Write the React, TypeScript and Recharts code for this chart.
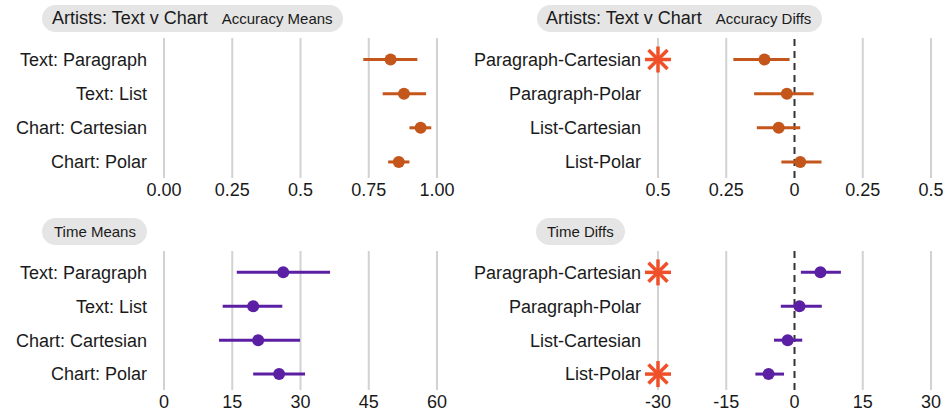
import React from "react";
import {
  ScatterChart,
  Scatter,
  XAxis,
  YAxis,
  ErrorBar,
  ReferenceLine,
} from "recharts";

const FONT = "Helvetica, 'Liberation Sans', Arial, sans-serif";
const ORANGE = "#c4561b";
const PURPLE = "#5b1fa4";
const STAR = "#ef502a";

// accuracy means
const meanLabels = ["Text: Paragraph", "Text: List", "Chart: Cartesian", "Chart: Polar"];
const accMean = [0.83, 0.879, 0.94, 0.86];
const accMeanLo = [0.73, 0.801, 0.899, 0.821];
const accMeanHi = [0.928, 0.96, 0.979, 0.899];
const accMeanTicks = [0, 0.25, 0.5, 0.75, 1];
const accMeanTickLabels = ["0.00", "0.25", "0.5", "0.75", "1.00"];

// accuracy diffs
const diffLabels = ["Paragraph-Cartesian", "Paragraph-Polar", "List-Cartesian", "List-Polar"];
const accDiff = [-0.11, -0.028, -0.058, 0.021];
const accDiffLo = [-0.224, -0.148, -0.138, -0.048];
const accDiffHi = [-0.018, 0.07, 0.021, 0.099];
const accDiffSig = [true, false, false, false];
const accDiffTicks = [-0.5, -0.25, 0, 0.25, 0.5];
const accDiffTickLabels = ["0.5", "0.25", "0", "0.25", "0.5"];

// time means
const timeMean = [26.2, 19.6, 20.7, 25.3];
const timeMeanLo = [16.0, 12.9, 12.1, 19.6];
const timeMeanHi = [36.5, 26.0, 29.9, 31.0];
const timeMeanTicks = [0, 15, 30, 45, 60];
const timeMeanTickLabels = ["0", "15", "30", "45", "60"];

// time diffs
const timeDiff = [5.7, 1.1, -1.5, -5.7];
const timeDiffLo = [1.4, -3.0, -4.5, -8.6];
const timeDiffHi = [10.2, 6.0, 1.7, -2.3];
const timeDiffSig = [true, false, false, true];
const timeDiffTicks = [-30, -15, 0, 15, 30];
const timeDiffTickLabels = ["-30", "-15", "0", "15", "30"];

const Dot = (props: any) => {
  const { cx, cy, fill } = props;
  return <circle cx={cx} cy={cy} r={6} fill={fill} />;
};

const Asterisk = (props: any) => {
  const { cx, cy } = props;
  const r = 13;
  const d = 9.5;
  return (
    <g stroke={STAR} strokeWidth={3.5} strokeLinecap="butt">
      <line x1={cx - r} y1={cy} x2={cx + r} y2={cy} />
      <line x1={cx} y1={cy - r} x2={cx} y2={cy + r} />
      <line x1={cx - d} y1={cy - d} x2={cx + d} y2={cy + d} />
      <line x1={cx - d} y1={cy + d} x2={cx + d} y2={cy - d} />
    </g>
  );
};

type PanelProps = {
  left: number;
  top: number;
  width: number;
  yWidth: number;
  marginTop: number;
  xHeight: number;
  labels: string[];
  mean: number[];
  lo: number[];
  hi: number[];
  ticks: number[];
  tickLabels: string[];
  color: string;
  diff?: boolean;
  sig?: boolean[];
};

function Panel(p: PanelProps) {
  const data = p.labels.map((label, i) => ({
    label,
    row: i,
    value: p.mean[i],
    err: [p.mean[i] - p.lo[i], p.hi[i] - p.mean[i]],
  }));
  const xMin = p.ticks[0];
  const xMax = p.ticks[p.ticks.length - 1];
  const stars = (p.sig || [])
    .map((s, i) => ({ row: i, value: xMin, s }))
    .filter((d) => d.s);
  const grid = p.diff ? p.ticks.filter((t) => t !== 0) : p.ticks;
  return (
    <div style={{ position: "absolute", left: p.left, top: p.top }}>
      <ScatterChart
        width={p.width}
        height={205}
        margin={{ top: p.marginTop, right: p.width - p.yWidth - 273, bottom: 0, left: 0 }}
      >
        <XAxis
          type="number"
          dataKey="value"
          domain={[xMin, xMax]}
          ticks={p.ticks}
          interval={0}
          axisLine={false}
          tickLine={false}
          tickSize={0}
          tickMargin={5}
          height={p.xHeight}
          tickFormatter={(v: number) => p.tickLabels[p.ticks.indexOf(v)]}
          tick={{ fill: "#1a1a1a", fontSize: 18, fontFamily: FONT }}
        />
        <YAxis
          type="number"
          dataKey="row"
          domain={[-0.63, 3.47]}
          ticks={[0, 1, 2, 3]}
          interval={0}
          reversed
          axisLine={false}
          tickLine={false}
          tickSize={0}
          tickMargin={17}
          width={p.yWidth}
          tickFormatter={(v: number) => p.labels[v]}
          tick={{ fill: "#1a1a1a", fontSize: 18, fontFamily: FONT }}
        />
        {grid.map((t) => (
          <ReferenceLine key={t} x={t} stroke="#d2d2d2" strokeWidth={2} />
        ))}
        {p.diff && (
          <ReferenceLine x={0} stroke="#333" strokeWidth={2} strokeDasharray="7 5" />
        )}
        <Scatter
          data={data}
          fill={p.color}
          shape={Dot}
          isAnimationActive={false}
        >
          <ErrorBar
            dataKey="err"
            direction="x"
            width={0}
            stroke={p.color}
            strokeWidth={3}
            isAnimationActive={false}
          />
        </Scatter>
        {stars.length > 0 && (
          <Scatter data={stars} shape={Asterisk} isAnimationActive={false} />
        )}
      </ScatterChart>
    </div>
  );
}

function Pill(props: {
  left: number;
  top: number;
  main?: string;
  sub: string;
  padL: number;
  padR: number;
}) {
  return (
    <div
      style={{
        position: "absolute",
        left: props.left,
        top: props.top,
        height: 27,
        lineHeight: "27px",
        background: "#e5e5e5",
        borderRadius: 14,
        paddingLeft: props.padL,
        paddingRight: props.padR,
        whiteSpace: "nowrap",
        fontFamily: FONT,
        color: "#1a1a1a",
      }}
    >
      {props.main && (
        <span style={{ fontSize: 18, marginRight: 14 }}>{props.main}</span>
      )}
      <span style={{ fontSize: 15 }}>{props.sub}</span>
    </div>
  );
}

export default function App() {
  return (
    <div
      style={{
        position: "absolute",
        left: 0,
        top: 0,
        width: 945,
        height: 415,
        background: "#fff",
        overflow: "hidden",
      }}
    >
      <Panel
        left={0}
        top={0}
        width={470}
        yWidth={164}
        marginTop={38}
        xHeight={27}
        labels={meanLabels}
        mean={accMean}
        lo={accMeanLo}
        hi={accMeanHi}
        ticks={accMeanTicks}
        tickLabels={accMeanTickLabels}
        color={ORANGE}
      />
      <Panel
        left={470}
        top={0}
        width={475}
        yWidth={188}
        marginTop={38}
        xHeight={27}
        labels={diffLabels}
        mean={accDiff}
        lo={accDiffLo}
        hi={accDiffHi}
        ticks={accDiffTicks}
        tickLabels={accDiffTickLabels}
        color={ORANGE}
        diff
        sig={accDiffSig}
      />
      <Panel
        left={0}
        top={210}
        width={470}
        yWidth={164}
        marginTop={41}
        xHeight={25}
        labels={meanLabels}
        mean={timeMean}
        lo={timeMeanLo}
        hi={timeMeanHi}
        ticks={timeMeanTicks}
        tickLabels={timeMeanTickLabels}
        color={PURPLE}
      />
      <Panel
        left={470}
        top={210}
        width={475}
        yWidth={188}
        marginTop={41}
        xHeight={25}
        labels={diffLabels}
        mean={timeDiff}
        lo={timeDiffLo}
        hi={timeDiffHi}
        ticks={timeDiffTicks}
        tickLabels={timeDiffTickLabels}
        color={PURPLE}
        diff
        sig={timeDiffSig}
      />
      <Pill left={42} top={5} main="Artists: Text v Chart" sub="Accuracy Means" padL={10} padR={10} />
      <Pill left={537} top={5} main="Artists: Text v Chart" sub="Accuracy Diffs" padL={9} padR={11} />
      <Pill left={42} top={218} sub="Time Means" padL={12} padR={11} />
      <Pill left={536} top={218} sub="Time Diffs" padL={11} padR={11} />
    </div>
  );
}
